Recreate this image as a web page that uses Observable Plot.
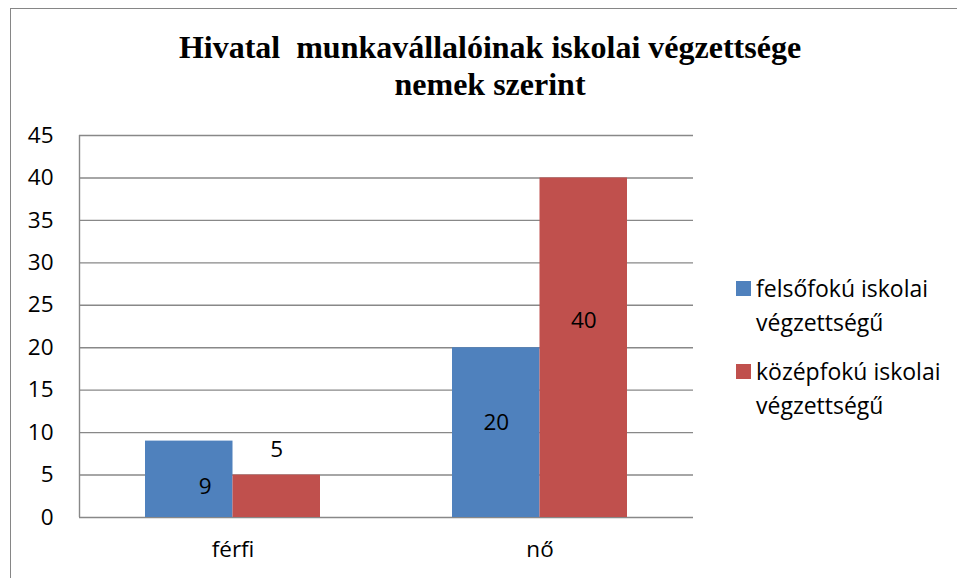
<!DOCTYPE html>
<html>
<head>
<meta charset="utf-8">
<script src="https://cdn.jsdelivr.net/npm/d3@7"></script>
<script src="https://cdn.jsdelivr.net/npm/@observablehq/plot@0.6"></script>
<style>
  html, body { margin: 0; padding: 0; background: #fff; }
  #wrap { position: relative; width: 957px; height: 578px; overflow: hidden; }
  #frame { position: absolute; left: 10px; top: 8px; width: 1000px; height: 600px; border: 1.5px solid #868686; box-sizing: border-box; }
  #title { position: absolute; left: 0; width: 980px; top: 29px; text-align: center; font-family: "Liberation Serif", serif; font-weight: bold; font-size: 32px; line-height: 37px; white-space: pre; color: #000; }
  #chart { position: absolute; left: 0; top: 0; }
  .leg { position: absolute; font-family: "Open Sans", sans-serif; font-size: 23px; line-height: 34px; color: #000; }
  .sw { position: absolute; width: 15px; height: 15px; }
</style>
</head>
<body>
<div id="wrap">
  <div id="frame"></div>
  <div id="chart"></div>
  <div id="title"></div>
  <div id="legend"></div>
</div>
<script>
const titleLines = ["Hivatal  munkavállalóinak iskolai végzettsége", "nemek szerint"];
const categories = ["férfi", "nő"];
const seriesNames = ["felsőfokú iskolai végzettségű", "középfokú iskolai végzettségű"];
const seriesLegendLines = [["felsőfokú iskolai", "végzettségű"], ["középfokú iskolai", "végzettségű"]];
const seriesColors = ["#4F81BD", "#C0504D"];
const felsofoku = [9, 20];
const kozepfoku = [5, 40];
// where Excel placed each data label (data units)
const labelAnchorFelso = [3.6, 11.2];
const labelAnchorKozep = [8.0, 23.2];
const yTicks = [0, 5, 10, 15, 20, 25, 30, 35, 40, 45];

const rows = [];
categories.forEach((c, i) => {
  rows.push({cat: c, series: seriesNames[0], value: felsofoku[i], labelY: labelAnchorFelso[i]});
  rows.push({cat: c, series: seriesNames[1], value: kozepfoku[i], labelY: labelAnchorKozep[i]});
});
const s0 = rows.filter(d => d.series === seriesNames[0]);
const s1 = rows.filter(d => d.series === seriesNames[1]);

const W = 957, H = 578;
const mL = 79, mR = 264, mT = 135, mB = 61;
const step = (W - mL - mR) / 2;
const bw = step * 0.57;
const half = bw / 2;

const grid = "#888888";
const font = "Open Sans, sans-serif";

const chart = Plot.plot({
  width: W, height: H,
  marginLeft: mL, marginRight: mR, marginTop: mT, marginBottom: mB,
  style: {fontFamily: font, fontSize: "22.5px", color: "#000", background: "transparent", overflow: "visible"},
  x: {domain: categories, paddingInner: 0.43, paddingOuter: 0.215, label: null, tickSize: 0, tickPadding: 24},
  y: {domain: [0, 45], ticks: yTicks, label: null, tickSize: 0, tickPadding: 26, tickFormat: d => String(d)},
  marks: [
    Plot.ruleY(yTicks, {stroke: grid, strokeWidth: 1.4}),
    Plot.barY(s0, {x: "cat", y: "value", fill: seriesColors[0], insetRight: half}),
    Plot.barY(s1, {x: "cat", y: "value", fill: seriesColors[1], insetLeft: half}),
    Plot.ruleX([0], {x: () => categories[0], y1: 0, y2: 45, dx: -(bw / 2) - step * 0.215, stroke: grid, strokeWidth: 1.4}),
    Plot.text(s0.filter(d => d.cat === categories[0]), {x: "cat", y: "labelY", text: d => String(d.value), dx: -half / 2 + 16, fontSize: 22.5, fill: "#000"}),
    Plot.text(s0.filter(d => d.cat !== categories[0]), {x: "cat", y: "labelY", text: d => String(d.value), dx: -half / 2, fontSize: 22.5, fill: "#000"}),
    Plot.text(s1, {x: "cat", y: "labelY", text: d => String(d.value), dx: half / 2, fontSize: 22.5, fill: "#000"})
  ]
});
document.getElementById("chart").appendChild(chart);

document.getElementById("title").textContent = titleLines.join("\n");

const leg = document.getElementById("legend");
const legTops = [271, 354];
seriesLegendLines.forEach((lines, i) => {
  const sw = document.createElement("div");
  sw.className = "sw";
  sw.style.left = "736px";
  sw.style.top = (legTops[i] + 10) + "px";
  sw.style.background = seriesColors[i];
  leg.appendChild(sw);
  const t = document.createElement("div");
  t.className = "leg";
  t.style.left = "756px";
  t.style.top = legTops[i] + "px";
  t.innerHTML = lines.join("<br>");
  leg.appendChild(t);
});
</script>
</body>
</html>
